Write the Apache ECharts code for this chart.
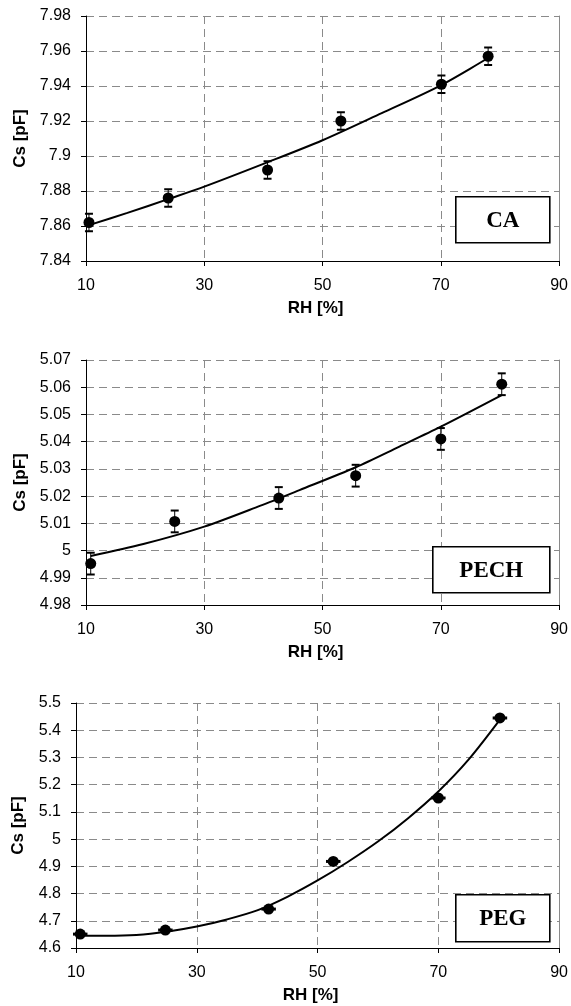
<!DOCTYPE html>
<html><head><meta charset="utf-8">
<script src="https://cdn.jsdelivr.net/npm/echarts@6/dist/echarts.min.js"></script>
<style>html,body{margin:0;padding:0;background:#fff}#c{width:571px;height:1006px}</style>
</head><body><div id="c"></div>
<script>
// ---- CA panel ----
const caRH = [10.5, 23.9, 40.7, 53.1, 70.1, 78.0];
const caCs = [7.862, 7.876, 7.892, 7.920, 7.941, 7.957];
const caErr = [0.005, 0.005, 0.005, 0.005, 0.005, 0.005];
const caFitRH = [10.5, 17, 24, 30, 40, 50, 60, 70, 78];
const caFitCs = [7.8605, 7.8675, 7.8755, 7.8825, 7.8955, 7.909, 7.9245, 7.9404, 7.956];
// ---- PECH panel ----
const pechRH = [10.8, 25.0, 42.6, 55.6, 70.0, 80.3];
const pechCs = [4.9952, 5.0107, 5.0193, 5.0275, 5.041, 5.0611];
const pechErr = [0.004, 0.004, 0.004, 0.004, 0.004, 0.004];
const pechFitRH = [10.8, 19.7, 30, 39.4, 46.1, 55.6, 63, 70, 80.3];
const pechFitCs = [4.998, 5.0024, 5.0088, 5.0164, 5.0222, 5.0306, 5.0382, 5.0455, 5.0571];
// ---- PEG panel ----
const pegRH = [10.7, 24.8, 41.9, 52.6, 70.0, 80.2];
const pegCs = [4.651, 4.666, 4.743, 4.918, 5.151, 5.445];
const pegRHErr = [1.2, 1.2, 1.2, 1.2, 1.2, 1.2];
const pegFitRH = [10.8, 15, 20, 25, 30, 35, 40, 45, 50, 55, 60, 65, 70, 75, 80.2];
const pegFitCs = [4.645, 4.645, 4.648, 4.660, 4.679, 4.705, 4.738, 4.788, 4.848, 4.916, 4.991, 5.077, 5.175, 5.292, 5.439];
// ---- axes ----
const xMin = 10, xMax = 90, xStep = 20;
const yRanges = [
  {min: 7.84, max: 7.98, step: 0.02},
  {min: 4.98, max: 5.07, step: 0.01},
  {min: 4.6, max: 5.5, step: 0.1}
];
const panelLabels = ['CA', 'PECH', 'PEG'];
const xName = 'RH [%]';
const yName = 'Cs [pF]';

const grids = [
  {left: 86, top: 16, width: 474, height: 245},
  {left: 86, top: 360, width: 474, height: 245},
  {left: 76, top: 703, width: 485, height: 245}
];
const yNameGaps = [57, 57, 49];
const FONT = '"Liberation Sans", Arial, sans-serif';
const gridColor = '#8a8a8a';

const xAxes = [], yAxes = [];
grids.forEach((g, i) => {
  xAxes.push({
    type: 'value', gridIndex: i, min: xMin, max: xMax, interval: xStep,
    name: xName, nameLocation: 'middle', nameGap: 39,
    nameTextStyle: {fontFamily: FONT, fontWeight: 'bold', fontSize: 17, color: '#000', padding: [0, 14, 0, 0]},
    axisLine: {onZero: false, lineStyle: {color: '#000', width: 1}},
    axisTick: {show: true, length: 5, lineStyle: {color: '#000'}},
    axisLabel: {fontFamily: FONT, fontSize: 16, color: '#000', margin: 17},
    splitLine: {show: true, lineStyle: {color: gridColor, type: [8, 5], width: 1}}
  });
  const r = yRanges[i];
  yAxes.push({
    type: 'value', gridIndex: i, min: r.min, max: r.max, interval: r.step,
    name: yName, nameLocation: 'middle', nameGap: yNameGaps[i],
    nameTextStyle: {fontFamily: FONT, fontWeight: 'bold', fontSize: 17, color: '#000'},
    axisLine: {show: true, onZero: false, lineStyle: {color: '#000', width: 1}},
    axisTick: {show: true, length: 5, lineStyle: {color: '#000'}},
    axisLabel: {fontFamily: FONT, fontSize: 16, color: '#000', margin: 15},
    splitLine: {show: true, lineStyle: {color: gridColor, type: [8, 5], width: 1}}
  });
  // right border of plot area
  yAxes.push({
    type: 'value', gridIndex: i, min: r.min, max: r.max, position: 'right',
    axisLine: {show: true, onZero: false, lineStyle: {color: gridColor, width: 1}},
    axisTick: {show: false}, axisLabel: {show: false}, splitLine: {show: false}
  });
});

function vErrItem(params, api) {
  const x = api.value(0), y = api.value(1), e = api.value(2);
  const t = api.coord([x, y + e]), b = api.coord([x, y - e]);
  const w = 4;
  return {type: 'group', children: [
    {type: 'line', shape: {x1: t[0], y1: t[1], x2: b[0], y2: b[1]}, style: {stroke: '#000', lineWidth: 1}},
    {type: 'line', shape: {x1: t[0] - w, y1: t[1], x2: t[0] + w, y2: t[1]}, style: {stroke: '#000', lineWidth: 2}},
    {type: 'line', shape: {x1: b[0] - w, y1: b[1], x2: b[0] + w, y2: b[1]}, style: {stroke: '#000', lineWidth: 2}}
  ]};
}
function hErrItem(params, api) {
  const x = api.value(0), y = api.value(1), e = api.value(2);
  const l = api.coord([x - e, y]), r = api.coord([x + e, y]);
  return {type: 'group', children: [
    {type: 'line', shape: {x1: l[0], y1: l[1], x2: r[0], y2: r[1]}, style: {stroke: '#000', lineWidth: 3}}
  ]};
}
const zip3 = (a, b, c) => a.map((v, k) => [v, b[k], c[k]]);
const zip2 = (a, b) => a.map((v, k) => [v, b[k]]);

const panels = [
  {rh: caRH, cs: caCs, err: caErr, fx: caFitRH, fy: caFitCs, kind: 'v'},
  {rh: pechRH, cs: pechCs, err: pechErr, fx: pechFitRH, fy: pechFitCs, kind: 'v'},
  {rh: pegRH, cs: pegCs, err: pegRHErr, fx: pegFitRH, fy: pegFitCs, kind: 'h'}
];
const series = [];
panels.forEach((p, i) => {
  series.push({
    type: 'line', xAxisIndex: i, yAxisIndex: i * 2, data: zip2(p.fx, p.fy),
    smooth: 0.3, showSymbol: false, symbol: 'none', silent: true,
    lineStyle: {color: '#000', width: 2}, z: 3
  });
  series.push({
    type: 'custom', xAxisIndex: i, yAxisIndex: i * 2, data: zip3(p.rh, p.cs, p.err),
    renderItem: p.kind === 'v' ? vErrItem : hErrItem, z: 4, silent: true
  });
  series.push({
    type: 'scatter', xAxisIndex: i, yAxisIndex: i * 2, data: zip2(p.rh, p.cs),
    symbol: 'circle', symbolSize: 11, itemStyle: {color: '#000', opacity: 1}, z: 5, silent: true
  });
});

const boxes = [
  {x: 455, y: 196, w: 94, h: 46},
  {x: 432, y: 546, w: 117, h: 46},
  {x: 455, y: 894, w: 94, h: 47}
];
const graphic = boxes.map((b, i) => ({
  type: 'group', left: b.x, top: b.y, z: 100,
  children: [
    {type: 'rect', z: 100, shape: {x: 0, y: 0, width: b.w, height: b.h}, style: {fill: '#fff', stroke: '#000', lineWidth: 1.6}},
    {type: 'text', z: 101, x: b.w / 2, y: b.h / 2 + 1, style: {text: panelLabels[i], font: 'bold 23px "Liberation Serif", "Times New Roman", serif', fill: '#000', align: 'center', verticalAlign: 'middle'}}
  ]
}));

const chart = echarts.init(document.getElementById('c'), null, {renderer: 'canvas'});
chart.setOption({
  animation: false,
  backgroundColor: '#fff',
  grid: grids,
  xAxis: xAxes,
  yAxis: yAxes,
  series: series,
  graphic: graphic
});
</script>
</body></html>
